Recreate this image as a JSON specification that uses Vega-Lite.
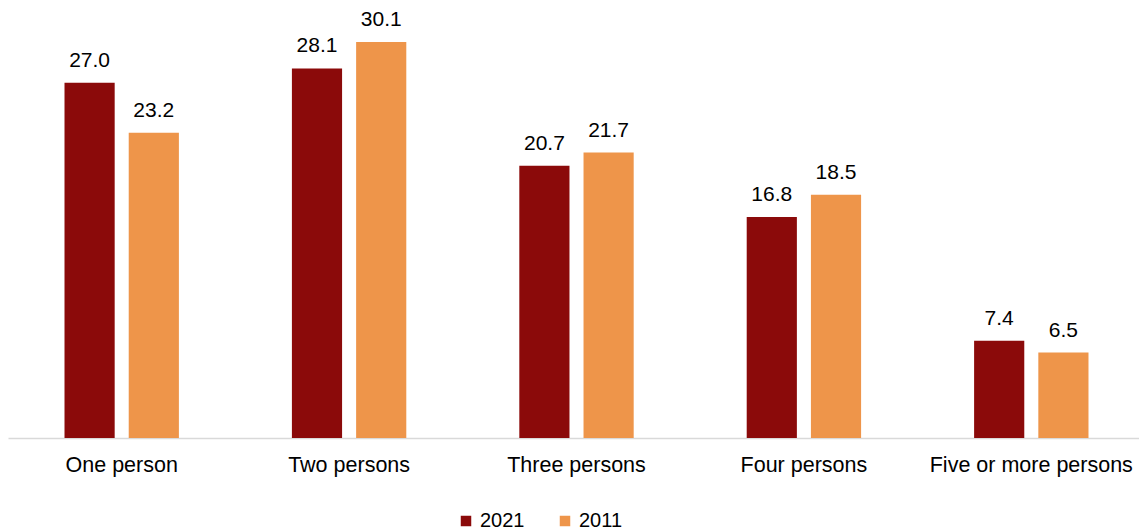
{
  "$schema": "https://vega.github.io/schema/vega-lite/v6.json",
  "width": 1137,
  "height": 438,
  "autosize": {"type": "none"},
  "padding": {"left": 8, "top": 0, "right": 0, "bottom": 94},
  "config": {
    "view": {"stroke": null},
    "font": "Liberation Sans"
  },
  "data": {
    "values": [
      {"size": "One person", "year": "2021", "pct": 27.0},
      {"size": "One person", "year": "2011", "pct": 23.2},
      {"size": "Two persons", "year": "2021", "pct": 28.1},
      {"size": "Two persons", "year": "2011", "pct": 30.1},
      {"size": "Three persons", "year": "2021", "pct": 20.7},
      {"size": "Three persons", "year": "2011", "pct": 21.7},
      {"size": "Four persons", "year": "2021", "pct": 16.8},
      {"size": "Four persons", "year": "2011", "pct": 18.5},
      {"size": "Five or more persons", "year": "2021", "pct": 7.4},
      {"size": "Five or more persons", "year": "2011", "pct": 6.5}
    ]
  },
  "encoding": {
    "x": {
      "field": "size", "type": "nominal", "sort": null,
      "scale": {"paddingInner": 0.497, "paddingOuter": 0.2485},
      "axis": {"title": null, "labelAngle": 0, "labelFontSize": 21.5, "labelLimit": 0, "labelColor": "#000000", "labelPadding": 16, "ticks": false, "domainColor": "#d9d9d9", "domainWidth": 1.5}
    },
    "xOffset": {"field": "year", "type": "nominal", "sort": ["2021", "2011"], "scale": {"paddingInner": 0.21875, "paddingOuter": 0}},
    "y": {"field": "pct", "type": "quantitative", "scale": {"domain": [0, 33.3]}, "axis": null}
  },
  "layer": [
    {
      "mark": {"type": "bar"},
      "encoding": {
        "color": {
          "field": "year", "type": "nominal", "sort": ["2021", "2011"],
          "scale": {"domain": ["2021", "2011"], "range": ["#8B0A0A", "#EE954A"]},
          "legend": {"title": null, "orient": "none", "legendX": 448, "legendY": 511, "direction": "horizontal", "symbolType": "square", "symbolSize": 110, "symbolStrokeWidth": 0, "labelFontSize": 20, "labelColor": "#000000", "columnPadding": 30, "labelOffset": 4}
        }
      }
    },
    {
      "mark": {"type": "text", "baseline": "bottom", "dy": -12, "fontSize": 21, "color": "#000000"},
      "encoding": {
        "text": {"field": "pct", "type": "quantitative", "format": ".1f"}
      }
    }
  ]
}
